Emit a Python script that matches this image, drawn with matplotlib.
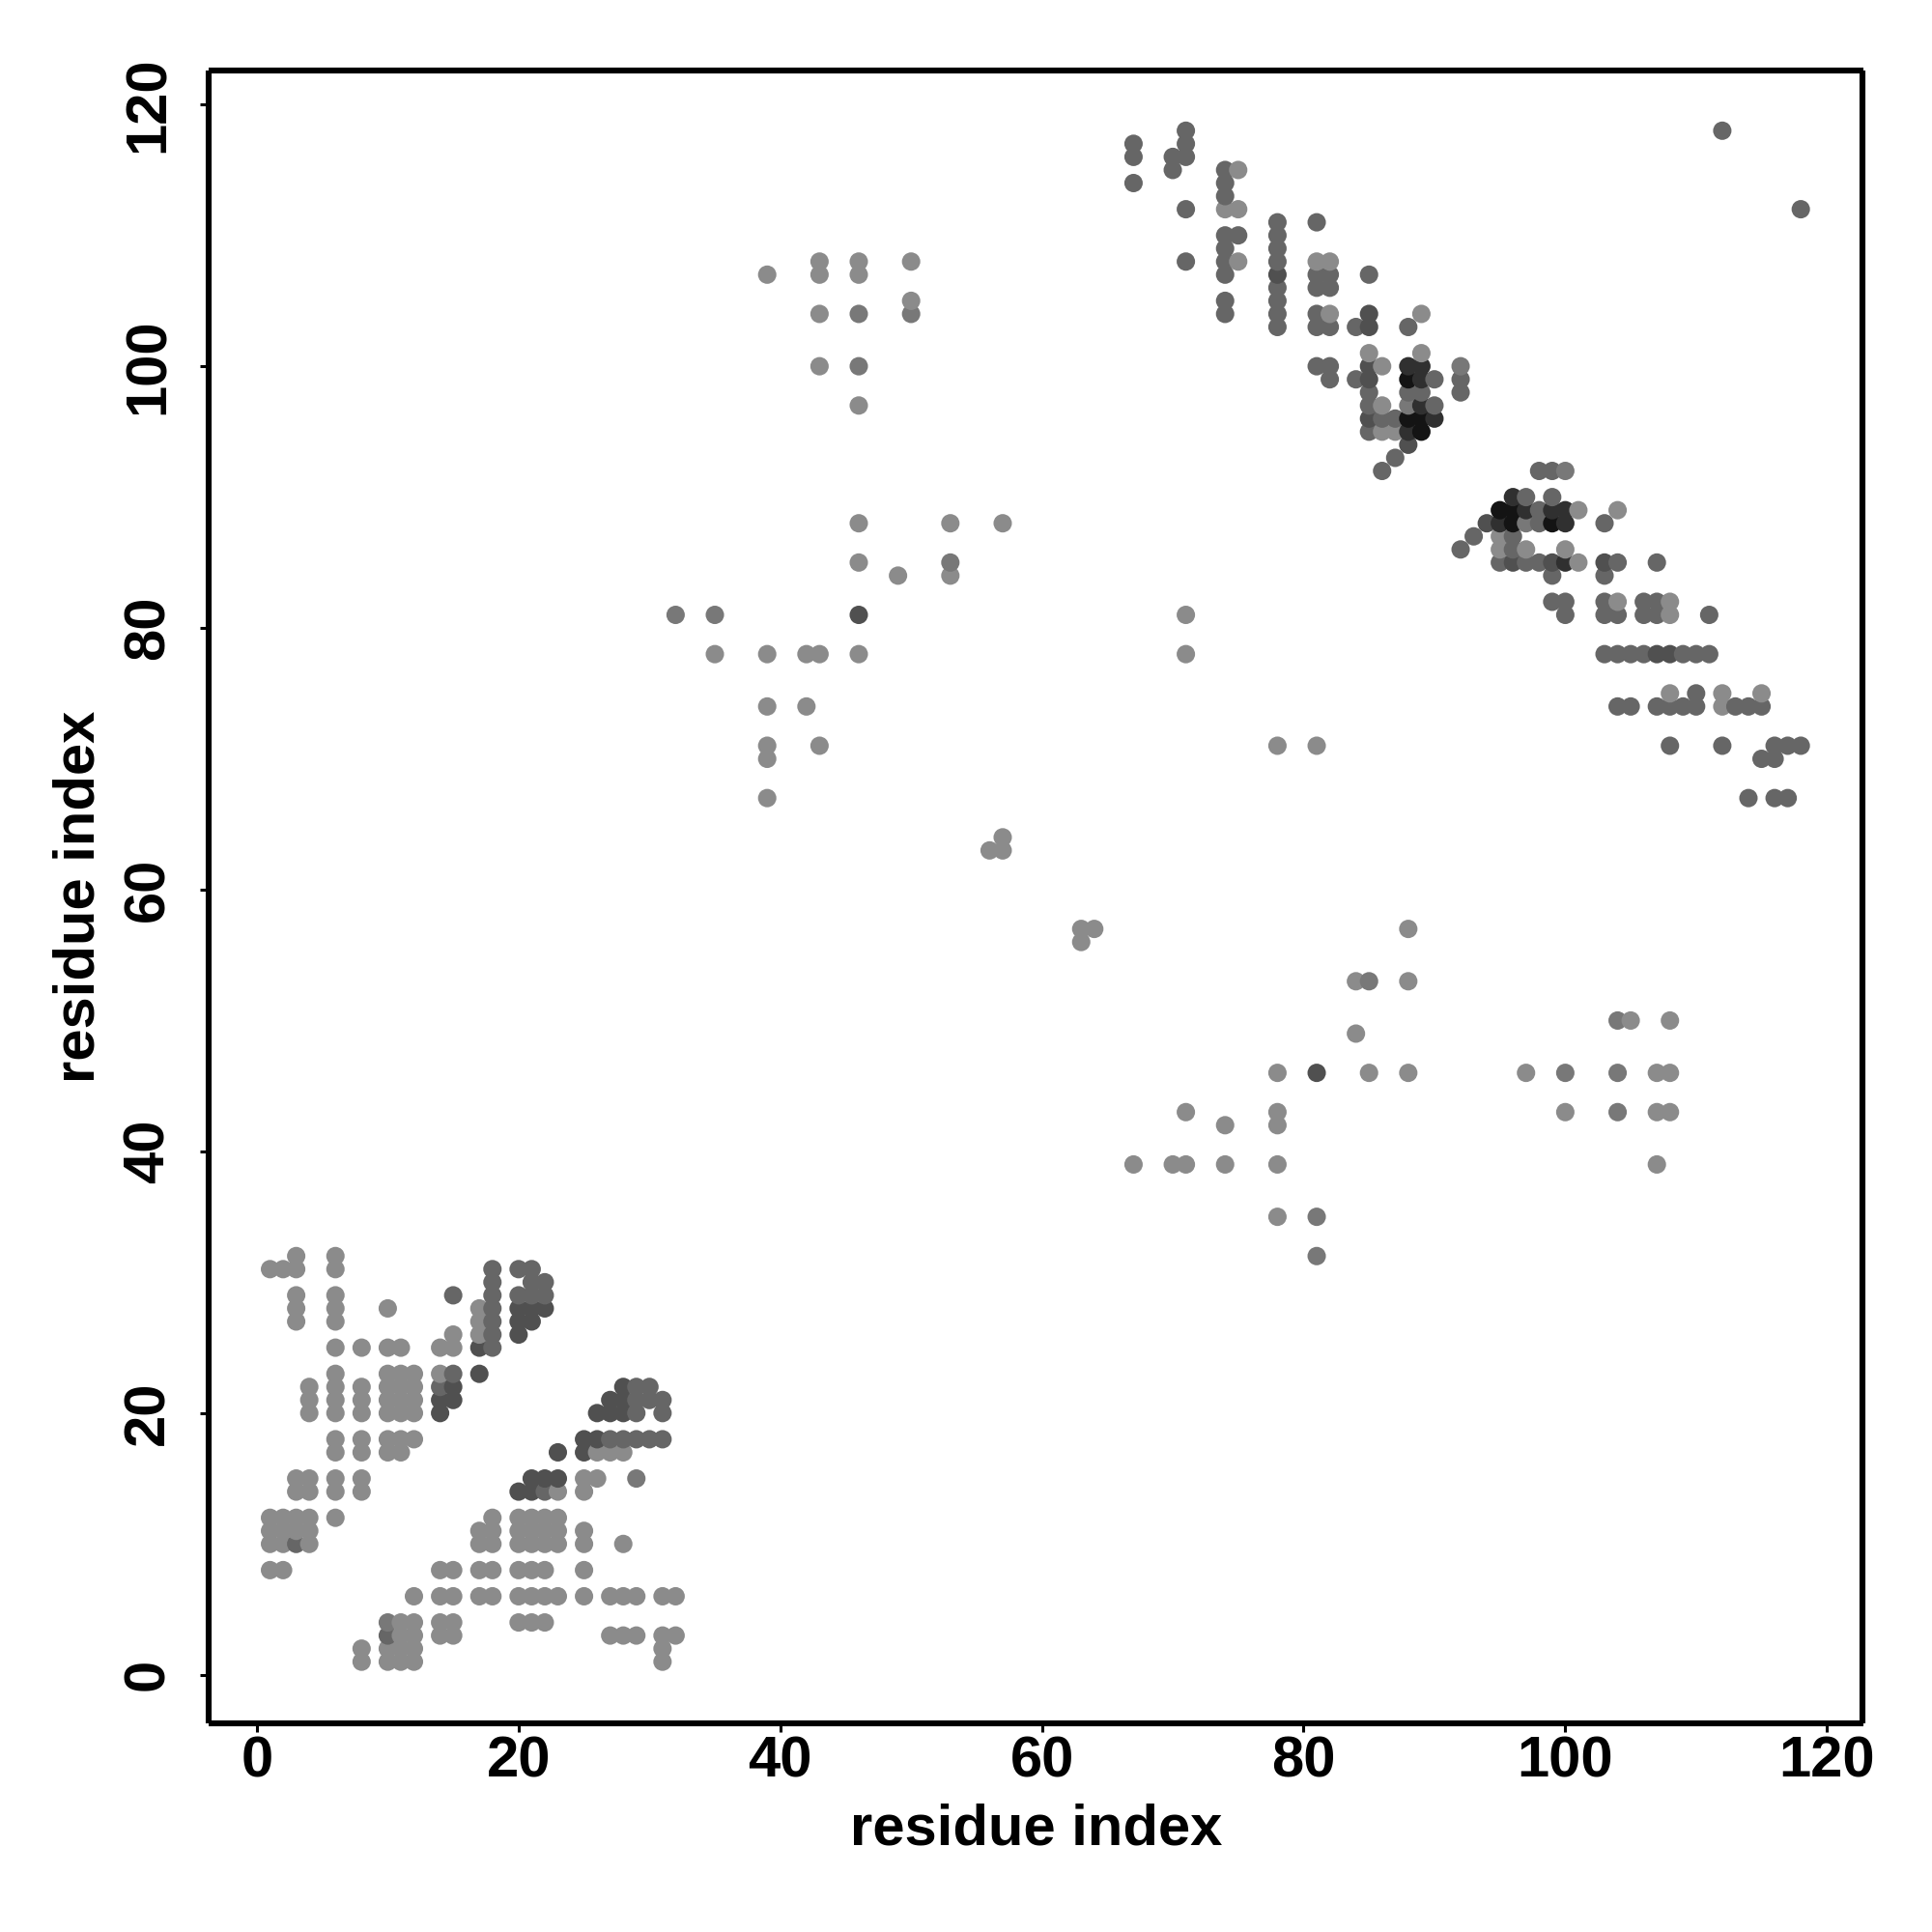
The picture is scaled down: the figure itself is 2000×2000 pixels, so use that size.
import numpy as np
import matplotlib
matplotlib.use("Agg")
import matplotlib.pyplot as plt

plt.rcParams['font.family'] = ['Liberation Sans', 'DejaVu Sans']

TICKS = [0, 20, 40, 60, 80, 100, 120]
AXIS_LABEL = "residue index"

# each row: (residue j, [residues i in contact]); one table per grey level
light_rows = [
    (108, [43, 46, 50, 81, 82]), (107, [39, 43, 46]), (105, [50]), (104, [43, 82, 89]),
    (115, [75]), (112, [74, 75]), (108, [75]), (101, [85, 89]), (100, [43, 86]),
    (97, [46, 86]), (95, [86, 87]), (89, [101, 104]), (88, [46, 53, 57]),
    (87, [95]), (86, [95, 97, 100]), (85, [46, 101]), (84, [49, 53]), (82, [104, 108]),
    (81, [71, 108]), (78, [35, 39, 42, 43, 46, 71]), (75, [108, 112, 115]),
    (74, [39, 42, 112]), (71, [39, 43, 78, 81]), (70, [39]), (67, [39]),
    (64, [57]), (63, [56, 57]), (57, [63, 64, 88]), (56, [63]),
    (53, [84, 88]), (50, [105, 108]), (49, [84]), (46, [78, 85, 88, 97, 107, 108]),
    (43, [71, 78, 100, 107, 108]), (42, [74, 78]), (39, [67, 70, 71, 74, 78, 107]),
    (35, [78]),
    (32, [3, 6]), (31, [1, 2, 3, 6]), (29, [3, 6]), (28, [3, 6, 10, 17]),
    (27, [3, 6, 17]), (26, [15, 17]), (25, [6, 8, 10, 11, 14, 15]),
    (23, [6, 10, 11, 12, 14]), (22, [4, 6, 8, 10, 11, 12]),
    (21, [4, 6, 8, 10, 11, 12]), (20, [4, 6, 8, 10, 11, 12]),
    (18, [6, 8, 10, 11, 12]), (17, [6, 8, 10, 11, 26, 27, 28]),
    (15, [3, 4, 6, 8, 25, 26]), (14, [3, 4, 6, 8, 23, 25]),
    (12, [1, 2, 3, 4, 6, 18, 20, 21, 22, 23]),
    (11, [1, 2, 3, 4, 17, 18, 20, 21, 22, 23, 25]),
    (10, [1, 2, 4, 17, 18, 20, 21, 22, 23, 25, 28]),
    (8, [1, 2, 14, 15, 17, 18, 20, 21, 22, 25]),
    (6, [12, 14, 15, 17, 18, 20, 21, 22, 23, 25, 27, 28, 29, 31, 32]),
    (4, [11, 12, 14, 15, 20, 21, 22]), (3, [11, 12, 14, 15, 27, 28, 29, 31, 32]),
    (2, [8, 10, 11, 12, 31]), (1, [8, 10, 11, 12, 31]),
]
soft_rows = [
    (104, [46, 50]), (100, [46, 92]), (97, [88]), (92, [100]), (88, [97]),
    (85, [53]), (81, [32, 35]), (53, [85]), (50, [104]), (46, [100, 104]),
    (43, [104]), (35, [81]), (32, [81]), (15, [29]), (4, [10]),
]
mid_rows = [
    (118, [71, 112]), (117, [67, 71]), (116, [67, 70, 71]), (115, [70, 74]),
    (114, [67, 74]), (113, [74]), (112, [71, 118]), (111, [78, 81]),
    (110, [74, 75, 78]), (109, [74, 78]), (108, [71, 74, 78]), (107, [74, 81, 82, 85]),
    (106, [78, 81, 82]), (105, [74, 78]), (104, [74, 78, 81]),
    (103, [78, 81, 82, 84, 88]), (100, [81, 82]), (99, [82, 84, 90, 92]),
    (98, [85, 88, 89, 92]), (97, [85, 90]), (96, [86, 87]), (95, [85]),
    (93, [87]), (92, [86, 98, 99]), (90, [97, 99]), (89, [98]), (88, [98, 103]),
    (87, [93, 96]), (86, [92, 96]), (85, [95, 97, 98, 104, 107]), (84, [99, 103]),
    (82, [99, 100, 103, 106, 107]), (81, [100, 103, 104, 106, 107, 111]),
    (78, [103, 104, 105, 106, 109, 110, 111]), (75, [110]),
    (74, [104, 105, 107, 108, 109, 110, 113, 114, 115]),
    (71, [108, 112, 116, 117, 118]), (70, [115, 116]), (67, [114, 116, 117]),
    (31, [18, 20, 21]), (30, [18, 21, 22]), (29, [15, 18, 20, 21, 22]),
    (28, [18]), (27, [18]), (26, [18]), (25, [18]), (23, [15]), (22, [14, 29, 30]),
    (21, [29, 30, 31]), (20, [29, 31]), (18, [27, 28, 29, 30, 31]),
    (14, [22]), (10, [3]), (3, [10]),
]
dark_rows = [
    (107, [78]), (104, [85]), (103, [85]), (100, [85]), (99, [85]), (96, [85]),
    (94, [88]), (88, [94]), (85, [96, 99, 103]), (81, [46]), (78, [107, 108]),
    (46, [81]),
    (28, [20, 21, 22]), (27, [20, 21]), (26, [20]), (25, [17]), (23, [17]),
    (22, [15, 28]), (21, [14, 15, 27, 28]), (20, [14, 26, 27, 28]),
    (18, [25, 26]), (17, [23, 25]), (15, [21, 22, 23]), (14, [20, 21]),
]
deep_rows = [
    (100, [88, 89]), (99, [89]), (97, [89]), (96, [90]), (95, [88]),
    (90, [96]), (89, [97, 99, 100]), (88, [95, 100]), (85, [100]),
]
black_rows = [
    (99, [88]), (96, [88, 89]), (95, [89]),
    (89, [95, 96]), (88, [96, 99]),
]
shade_tables = [(light_rows, 0x8b), (soft_rows, 0x78), (mid_rows, 0x66),
                (dark_rows, 0x50), (deep_rows, 0x30), (black_rows, 0x14)]

res_i, res_j, grey = [], [], []
for rows, level in shade_tables:
    for j, members in rows:
        for i in members:
            res_i.append(i)
            res_j.append(j)
            grey.append(level)
res_i, res_j, grey = np.array(res_i), np.array(res_j), np.array(grey)
order = np.lexsort((res_j, res_i))
colors = np.repeat((grey[order] / 255.0)[:, None], 3, axis=1)

fig = plt.figure(figsize=(10, 10), dpi=200, facecolor='white')
W = H = 2000.0
left, right, top, bottom = 216, 1928.5, 73, 1784
ax = fig.add_axes([left / W, 1 - bottom / H, (right - left) / W, (bottom - top) / H])
ax.scatter(res_i[order], res_j[order], s=47, c=colors, linewidths=0, zorder=2, clip_on=True)
ax.set_xlim(-3.69, 122.75)
ax.set_ylim(-3.71, 122.6)
ax.set_xticks(TICKS)
ax.set_yticks(TICKS)
ax.tick_params(axis='both', length=3.2, width=1.1, color='black', labelsize=21.5, labelcolor='black')
ax.tick_params(axis='x', pad=1.2)
ax.tick_params(axis='y', pad=9.2)
for lab in ax.get_xticklabels() + ax.get_yticklabels():
    lab.set_fontweight('bold')
for lab in ax.get_yticklabels():
    lab.set_rotation(90)
    lab.set_verticalalignment('center')
for sp in ax.spines.values():
    sp.set_linewidth(2.2)
    sp.set_color('black')
    sp.set_capstyle('butt')
ax.set_xlabel(AXIS_LABEL, fontsize=21.5, fontweight='bold', labelpad=5.4)
ax.set_ylabel(AXIS_LABEL, fontsize=21.5, fontweight='bold', labelpad=6)
fig.savefig('out.png', dpi=200, facecolor='white')
